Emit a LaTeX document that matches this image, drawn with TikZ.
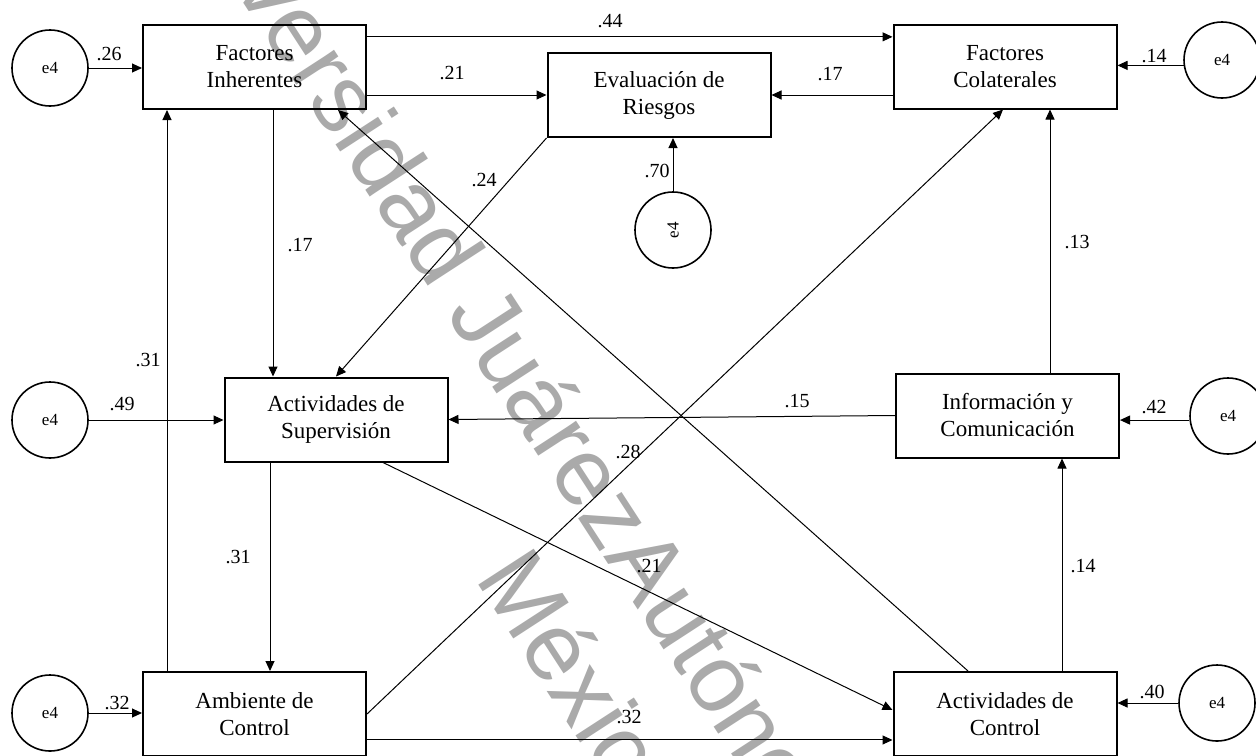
\documentclass[tikz,border=0pt]{standalone}
\usepackage{graphicx}
\usepackage{fontspec}
\setmainfont{Liberation Serif}
\newfontfamily\marcafont{Liberation Sans}
\usetikzlibrary{arrows.meta,calc}
\definecolor{marca}{RGB}{170,170,170}

\begin{document}
\begin{tikzpicture}[x=0.5pt, y=-0.5pt,
  caja/.style={draw, line width=1pt, minimum width=111.5pt, minimum height=42pt, inner sep=0pt, align=center, font=\fontsize{11.5}{13.5}\selectfont},
  error/.style={draw, circle, line width=0.8pt, minimum size=38pt, inner sep=0pt, font=\fontsize{8.5}{10}\selectfont},
  flecha/.style={-{Triangle[length=5pt,width=4.5pt]}, line width=0.5pt},
  coef/.style={font=\fontsize{10}{12}\selectfont, inner sep=0pt},
  wm/.style={text=marca, font=\marcafont\fontsize{48}{54}\selectfont, rotate=-57, inner sep=0pt}]
\useasboundingbox (0,0) rectangle (1256,755);
\fill[white] (0,0) rectangle (1256,755);
% Marca de agua
\begin{scope}
\clip (0,0) rectangle (1256,755);
\node[wm, anchor=base west] (wmA) at (603,556) {Autónoma};
\node[wm, anchor=base east] (wmU) at (wmA.base west) {Universidad Juárez\ };
\node[wm, anchor=base west] (wmM) at (474,578) {México};
\end{scope}
% Variables
\node[caja] (FI) at (254.5,67) {Factores\\Inherentes};
\node[caja] (ER) at (659,95) {Evaluación de\\Riesgos};
\node[caja] (FC) at (1005,66.5) {Factores\\Colaterales};
\node[caja] (AS) at (336,419.5) {Actividades de\\Supervisión};
\node[caja] (IC) at (1007.5,415.5) {Información y\\Comunicación};
\node[caja] (AC) at (254.5,714) {Ambiente de\\Control};
\node[caja] (ACt) at (1005,714) {Actividades de\\Control};
% Errores
\node[error] (e1) at (50,68) {e4};
\node[error] (e2) at (1222,60) {e4};
\node[error] (e3) at (673,230) {\rotatebox{90}{e4}};
\node[error] (e4) at (50,420) {e4};
\node[error] (e5) at (1228,416) {e4};
\node[error] (e6) at (50,713) {e4};
\node[error] (e7) at (1217,703) {e4};
\draw[flecha] (e1) -- (e1 -| FI.west);
\draw[flecha] (e2.188) -- (e2.188 -| FC.east);
\draw[flecha] (e3.north) -- (e3.north |- ER.south);
\draw[flecha] (e4) -- (e4 -| AS.west);
\draw[flecha] (e5.186) -- (e5.186 -| IC.east);
\draw[flecha] (e6) -- (e6 -| AC.west);
\draw[flecha] (e7) -- (e7 -| ACt.east);
% Trayectorias
\coordinate (fiA) at ($(FI.south)+(18.5,0)$);
\coordinate (icA) at ($(IC.north)+(42.5,0)$);
\coordinate (acA) at ($(AC.north)+(-87.5,0)$);
\coordinate (asA) at ($(AS.south)+(-66,0)$);
\coordinate (asB) at ($(AS.south)+(47,0)$);
\coordinate (actA) at ($(ACt.north)+(57,0)$);
\coordinate (actB) at ($(ACt.north)+(-37,0)$);
\draw[flecha] (FI.15.5) -- (FI.15.5 -| FC.west);
\draw[flecha] (ER.west -| FI.east) -- (ER.west);
\draw[flecha] (ER.east -| FC.west) -- (ER.east);
\draw[flecha] (fiA) -- (fiA |- AS.north);
\draw[flecha] (ER.south west) -- (AS.north);
\draw[flecha] (icA) -- (icA |- FC.south);
\draw[flecha] (IC.west) -- (AS.east);
\draw[flecha] (acA) -- (acA |- FI.south);
\draw[flecha] (asA) -- (asA |- AC.north);
\draw[flecha] (AC.east) -- ($(FC.south)+(-2,0)$);
\draw[flecha] (asB) -- ($(ACt.west)+(0,-4)$);
\draw[flecha] (actA) -- (actA |- IC.south);
\draw[flecha] (actB) -- ($(FI.south)+(83.5,0)$);
\draw[flecha] (AC.-13.1) -- (AC.-13.1 -| ACt.west);
% Coeficientes
\foreach \v/\x/\y [count=\i] in {.26/109/54, .44/610/21, .21/452/73, .17/830/74, .14/1154/56,
  .70/657/171, .24/484/180, .17/300/245, .13/1077/242, .31/148/360, .49/122/404,
  .15/797/401, .42/1154/407, .28/628/452, .31/238/557, .21/649/566, .14/1083/566,
  .32/629/717, .32/117/703, .40/1152/692}
  \node[coef] (c\i) at (\x,\y) {\v};
\end{tikzpicture}
\end{document}
